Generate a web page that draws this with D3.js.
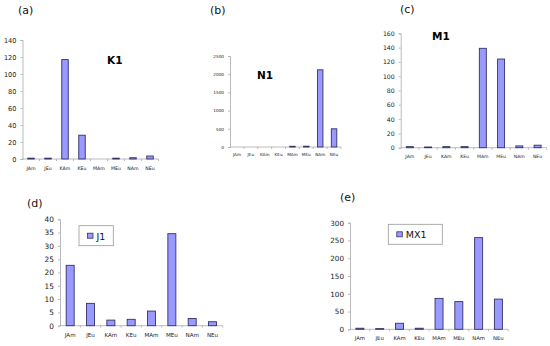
<!DOCTYPE html>
<meta charset="utf-8">
<script src="https://d3js.org/d3.v7.min.js"></script>
<style>
  body { margin: 0; background: #fff; }
  text { font-family: "DejaVu Sans", Verdana, sans-serif; }
</style>
<div id="divsvg"></div>
<script>

// categories shared by all five panels
var categories = ["JAm", "JEu", "KAm", "KEu", "MAm", "MEu", "NAm", "NEu"];

// values
var k1Values  = [1, 1, 117, 28, 0, 1, 1.5, 3.5];
var n1Values  = [0, 0, 0, 0, 20, 22, 2120, 500];
var m1Values  = [1.5, 1, 1.5, 1.5, 139, 124, 2.5, 3.5];
var j1Values  = [22.7, 8.4, 2.1, 2.4, 5.5, 34.6, 2.7, 1.5];
var mx1Values = [3, 2, 17, 3, 87, 78, 258, 85];

// y tick labels per panel
var k1Ticks  = [0, 20, 40, 60, 80, 100, 120, 140];
var n1Ticks  = [0, 500, 1000, 1500, 2000, 2500];
var m1Ticks  = [0, 20, 40, 60, 80, 100, 120, 140, 160];
var j1Ticks  = [0, 5, 10, 15, 20, 25, 30, 35, 40];
var mx1Ticks = [0, 50, 100, 150, 200, 250, 300];

var svg = d3.select("#divsvg")
  .append("svg")
    .attr("width", 550)
    .attr("height", 346);

// each panel: plot box, tag letter, series name, how the name is shown
var panels = [
  {tag: "(a)", tagX: 18, tagY: 14, name: "K1", values: k1Values, ticks: k1Ticks,
   x0: 22.5, x1: 158.5, y0: 159, y1: 40, barW: 6.5, yFont: 6.6, xFont: 4.7, labelGap: 11,
   title: {x: 107, y: 64}},
  {tag: "(b)", tagX: 210, tagY: 14, name: "N1", values: n1Values, ticks: n1Ticks,
   x0: 230, x1: 341, y0: 147, y1: 56, barW: 5.5, yFont: 4.2, xFont: 4.2, labelGap: 9,
   title: {x: 257, y: 79}},
  {tag: "(c)", tagX: 400, tagY: 13, name: "M1", values: m1Values, ticks: m1Ticks,
   x0: 400.7, x1: 546.7, y0: 147.7, y1: 33.3, barW: 7, yFont: 6.2, xFont: 4.6, labelGap: 10,
   title: {x: 432, y: 40}},
  {tag: "(d)", tagX: 27, tagY: 207, name: "J1", values: j1Values, ticks: j1Ticks,
   x0: 60, x1: 222.7, y0: 325.7, y1: 219.3, barW: 8, yFont: 7.4, xFont: 5.6, labelGap: 11,
   legend: {x: 79, y: 225.7, w: 34.3, h: 20}},
  {tag: "(e)", tagX: 340, tagY: 201, name: "MX1", values: mx1Values, ticks: mx1Ticks,
   x0: 350, x1: 508.3, y0: 329.3, y1: 222.7, barW: 8, yFont: 7.2, xFont: 5.3, labelGap: 11,
   legend: {x: 388.3, y: 224.3, w: 54, h: 20}}
];

panels.forEach(function(p) {
  var g = svg.append("g");

  var x = d3.scaleBand()
    .domain(categories)
    .range([p.x0, p.x1]);

  var y = d3.scaleLinear()
    .domain([0, d3.max(p.ticks)])
    .range([p.y0, p.y1]);

  // panel letter
  g.append("text")
    .attr("x", p.tagX)
    .attr("y", p.tagY)
    .style("font-size", "11px")
    .attr("fill", "#111")
    .text(p.tag);

  // y axis
  var yAxis = g.append("g")
    .attr("transform", "translate(" + p.x0 + ",0)")
    .call(d3.axisLeft(y).tickValues(p.ticks).tickSize(2).tickPadding(4).tickFormat(d3.format("d")));
  yAxis.select(".domain").attr("stroke", "#aaa").attr("stroke-width", 0.8);
  yAxis.selectAll(".tick line").attr("stroke", "#aaa").attr("stroke-width", 0.8);
  yAxis.selectAll("text")
    .style("font-size", p.yFont + "px")
    .style("font-family", "'DejaVu Sans', Verdana, sans-serif")
    .attr("fill", "#222");

  // x axis line with small ticks between categories
  g.append("line")
    .attr("x1", p.x0).attr("x2", p.x1)
    .attr("y1", p.y0).attr("y2", p.y0)
    .attr("stroke", "#aaa").attr("stroke-width", 0.8);
  g.selectAll(".xtick")
    .data(categories)
    .enter()
    .append("line")
      .attr("x1", function(d) { return x(d) + x.bandwidth(); })
      .attr("x2", function(d) { return x(d) + x.bandwidth(); })
      .attr("y1", p.y0).attr("y2", p.y0 + 2)
      .attr("stroke", "#aaa").attr("stroke-width", 0.8);

  g.selectAll(".xlabel")
    .data(categories)
    .enter()
    .append("text")
      .attr("x", function(d) { return x(d) + x.bandwidth() / 2; })
      .attr("y", p.y0 + p.labelGap)
      .attr("text-anchor", "middle")
      .style("font-size", p.xFont + "px")
      .attr("fill", "#222")
      .text(function(d) { return d; });

  // bars (zero values are hidden)
  g.selectAll("rect.bar")
    .data(p.values)
    .enter()
    .append("rect")
      .attr("class", "bar")
      .attr("x", function(d, i) { return x(categories[i]) + (x.bandwidth() - p.barW) / 2; })
      .attr("y", function(d) { return y(d); })
      .attr("width", p.barW)
      .attr("height", function(d) { return p.y0 - y(d); })
      .attr("display", function(d) { return d > 0 ? null : "none"; })
      .attr("fill", "#9999ff")
      .attr("stroke", "#333366")
      .attr("stroke-width", 0.9);

  // series name: bold title or legend box
  if (p.title) {
    g.append("text")
      .attr("x", p.title.x)
      .attr("y", p.title.y)
      .style("font-size", "10.5px")
      .style("font-weight", "bold")
      .attr("fill", "#000")
      .text(p.name);
  } else {
    g.append("rect")
      .attr("x", p.legend.x).attr("y", p.legend.y)
      .attr("width", p.legend.w).attr("height", p.legend.h)
      .attr("fill", "#fff")
      .attr("stroke", "#999").attr("stroke-width", 0.8);
    g.append("rect")
      .attr("x", p.legend.x + 8.5).attr("y", p.legend.y + 7.5)
      .attr("width", 5.5).attr("height", 5)
      .attr("fill", "#9999ff")
      .attr("stroke", "#333366").attr("stroke-width", 0.8);
    g.append("text")
      .attr("x", p.legend.x + 17.5)
      .attr("y", p.legend.y + 14)
      .style("font-size", "9.5px")
      .attr("fill", "#111")
      .text(p.name);
  }
});

</script>
